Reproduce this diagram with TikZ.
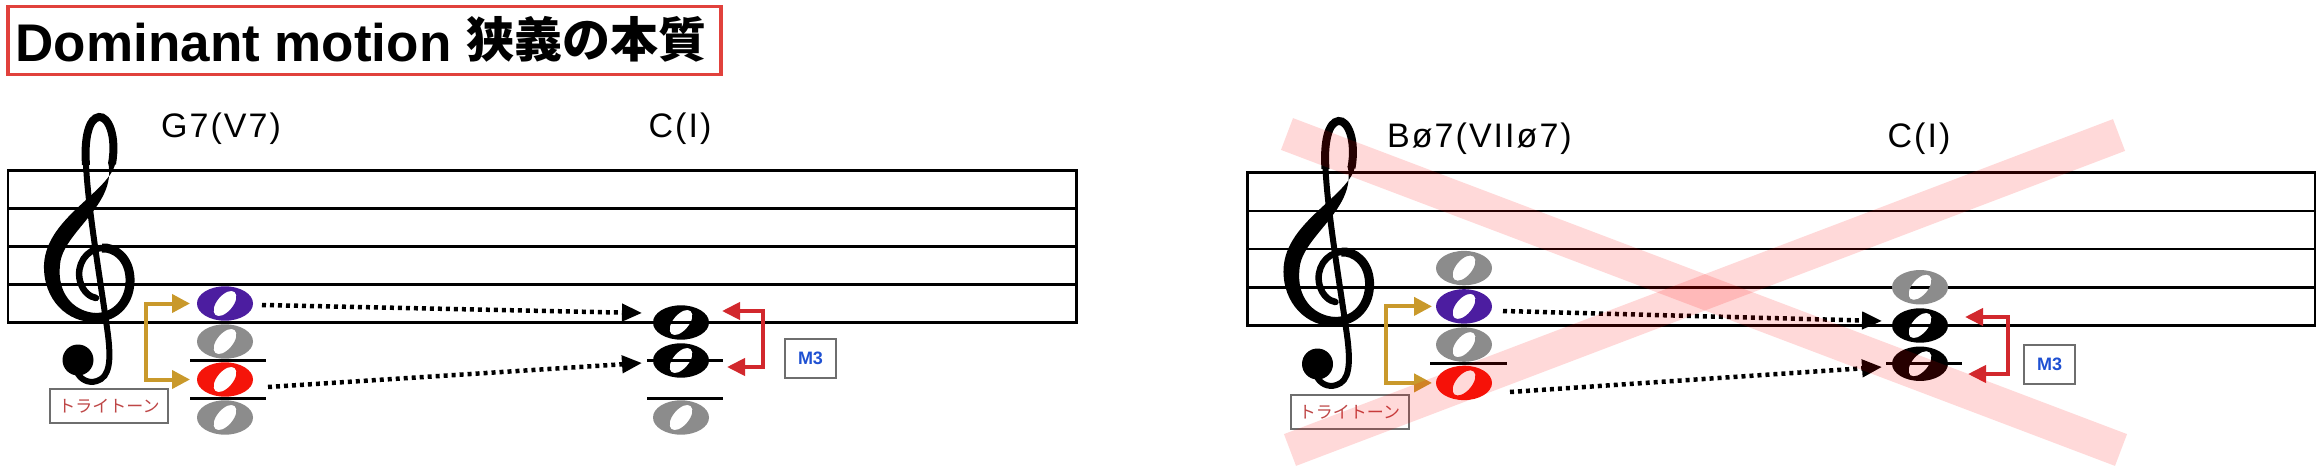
\documentclass[tikz,border=0pt]{standalone}
\usepackage{fontspec}
\setmainfont{Liberation Sans}
\newfontfamily\cjk{Noto Sans CJK JP}
\newfontfamily\labfont[LetterSpace=6]{Liberation Sans}
\usetikzlibrary{arrows.meta}
\definecolor{purpleN}{RGB}{76,29,160}
\definecolor{redN}{RGB}{245,20,10}
\definecolor{grayN}{RGB}{140,140,140}
\definecolor{goldA}{RGB}{201,153,43}
\definecolor{redA}{RGB}{210,40,45}
\definecolor{blueT}{RGB}{30,80,210}
\definecolor{triT}{RGB}{190,70,70}
\definecolor{boxG}{RGB}{110,110,110}
\definecolor{titleR}{RGB}{225,65,60}
\newcommand\wnote[2]{\fill[#2,even odd rule,shift={(#1)}] (0,0) ellipse [x radius=28,y radius=17.2] {[rotate=50] (0,0) ellipse [x radius=15,y radius=8]};}
\newcommand\gclef[1]{%
\begin{scope}[shift={(#1)}]
% thick diagonal crescent
\fill (116,158) .. controls (116,190) and (46,215) .. (44,265) .. controls (43,300) and (68,323) .. (95,322) -- (95,313) .. controls (72,311) and (57,292) .. (60,265) .. controls (62,232) and (118,205) .. (108,162) -- cycle;
% top loop
\draw[line width=8pt] (112,164) .. controls (117,135) and (108,116) .. (99,117) .. controls (89,118) and (84,138) .. (86,165);
% stem and hook
\draw[line width=6pt] (86,164) .. controls (88,210) and (102,290) .. (108,335) .. controls (111,360) and (110,377) .. (97,381) .. controls (88,384) and (80,379) .. (77,372);
% body ring
\draw[line width=9pt] (94,317.5) .. controls (117,318) and (131,300) .. (130,278) .. controls (129,258) and (115,247) .. (102,248);
\draw[line width=6.5pt,line cap=round] (102,248) .. controls (86,249) and (76,265) .. (80,281) .. controls (83,292) and (90,297) .. (96,298);
% ball
\fill (78,360) circle (15.5);
\end{scope}}
\begin{document}
\begin{tikzpicture}[x=1pt,y=-1pt,
  staffline/.style={line width=2.5pt},
  ledger/.style={line width=3pt},
  goldarrow/.style={draw=goldA,line width=4pt,{Triangle[length=18pt,width=18pt]}-{Triangle[length=18pt,width=18pt]}},
  redarrow/.style={draw=redA,line width=4pt,{Triangle[length=18pt,width=17pt]}-{Triangle[length=18pt,width=17pt]}},
  dotarrow/.style={line width=4.5pt,dash pattern=on 4pt off 4pt,-{Triangle[length=20pt,width=17pt]}},
  lab/.style={inner sep=0,font=\labfont\fontsize{34}{40}\selectfont},
  tribox/.style={draw=boxG,line width=2pt,minimum width=118pt,minimum height=34pt,inner sep=0,text=triT,font=\cjk\fontsize{17}{17}\selectfont},
  m3box/.style={draw=boxG,line width=2pt,minimum width=51pt,minimum height=39pt,inner sep=0,text=blueT,font=\bfseries\fontsize{18}{18}\selectfont},
  pinkband/.style={draw=red,line width=34pt,draw opacity=0.15}]
\useasboundingbox (0,0) rectangle (2322,476);
% title
\node[draw=titleR,line width=3.5pt,minimum width=713pt,minimum height=68pt,inner sep=0,anchor=north west] (titlebox) at (6,5) {};
\node[inner sep=0,anchor=base west,font=\bfseries\fontsize{53}{60}\selectfont] (title1) at (15.5,62) {Dominant motion};
\node[inner sep=0,anchor=base west,font=\cjk\bfseries\fontsize{48}{52}\selectfont] (title2) at (466,58) {狭義の本質};
% staves
\draw[staffline] (8,170.5) rectangle (1076.5,322.5);
\foreach \k in {1,2,3} \draw[staffline] (8,{170.5+38*\k}) -- (1076.5,{170.5+38*\k});
\draw[staffline] (1247.5,172.5) rectangle (2315,325.5);
\foreach \k in {1,2,3} \draw[staffline] (1247.5,{172.5+38.25*\k}) -- (2315,{172.5+38.25*\k});
% ledger lines
\draw[ledger] (190,360.5) -- (266,360.5);
\draw[ledger] (190,398.5) -- (266,398.5);
\draw[ledger] (647,360.5) -- (723,360.5);
\draw[ledger] (647,398.5) -- (723,398.5);
\draw[ledger] (1430,363.75) -- (1507,363.75);
\draw[ledger] (1886,363.75) -- (1962,363.75);
% notes left
\wnote{225,303.5}{purpleN}
\wnote{225,341.5}{grayN}
\wnote{225,379.5}{redN}
\wnote{225,417.5}{grayN}
\wnote{681,322.5}{black}
\wnote{681,360.5}{black}
\wnote{681,417.5}{grayN}
% notes right
\wnote{1464,268.1}{grayN}
\wnote{1464,306.4}{purpleN}
\wnote{1464,344.6}{grayN}
\wnote{1464,382.9}{redN}
\wnote{1920,287.25}{grayN}
\wnote{1920,325.5}{black}
\wnote{1920,363.75}{black}
% connector coordinates
\coordinate (gLt) at (190,303.5);
\coordinate (gLb) at (190,379.5);
\coordinate (gRt) at (1432,306.4);
\coordinate (gRb) at (1432,382.9);
\coordinate (dL1s) at (262,305);
\coordinate (dL1e) at (642,313);
\coordinate (dL2s) at (268,387);
\coordinate (dL2e) at (642,363);
\coordinate (dR1s) at (1503,311);
\coordinate (dR1e) at (1882,321);
\coordinate (dR2s) at (1510,392);
\coordinate (dR2e) at (1882,367);
\coordinate (rLt) at (722,311);
\coordinate (rLb) at (727,367);
\coordinate (rRt) at (1965,317);
\coordinate (rRb) at (1968,374);
% arrows
\draw[goldarrow] (gLt) -- ++(-44,0) |- (gLb);
\draw[goldarrow] (gRt) -- ++(-46,0) |- (gRb);
\draw[dotarrow] (dL1s) -- (dL1e);
\draw[dotarrow] (dL2s) -- (dL2e);
\draw[dotarrow] (dR1s) -- (dR1e);
\draw[dotarrow] (dR2s) -- (dR2e);
\draw[redarrow] (rLt) -- ++(41,0) |- (rLb);
\draw[redarrow] (rRt) -- ++(43,0) |- (rRb);
% boxes
\node[tribox] (triL) at (109,406) {トライトーン};
\node[tribox] (triR) at (1349.5,412) {トライトーン};
\node[m3box] (m3L) at (810.5,358.5) {M3};
\node[m3box] (m3R) at (2049.5,364.5) {M3};
% labels
\node[lab,anchor=base west] (lG7) at (161,138) {G7(V7)};
\node[lab,anchor=base] (lC1) at (680,138) {C(I)};
\node[lab,anchor=base west] (lB7) at (1387,148) {Bø7(VIIø7)};
\node[lab,anchor=base] (lC2) at (1919,148) {C(I)};
% clefs
\gclef{0,0}
\gclef{1239.5,4}
% cross
\draw[pinkband] (1287,134) -- (2121,450);
\draw[pinkband] (1290,450) -- (2119,135);
\end{tikzpicture}
\end{document}
